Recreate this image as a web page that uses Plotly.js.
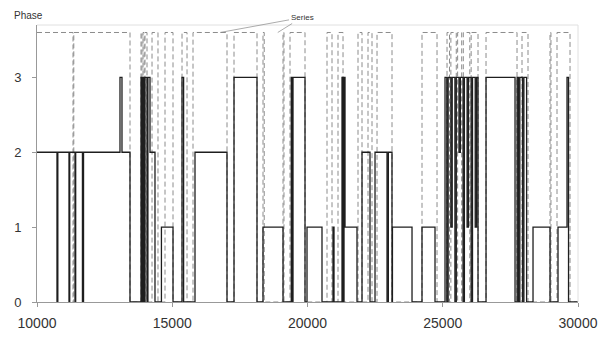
<!DOCTYPE html>
<html>
<head>
<meta charset="utf-8">
<script src="https://cdn.plot.ly/plotly-3.0.1.min.js"></script>
<style>html,body{margin:0;padding:0;background:#fff;}#chart{width:601px;height:343px;}</style>
</head>
<body>
<div id="chart"></div>
<script>
// Phase step series (time, phase)
var phaseTime = [10000,10739,10770,11183,11210,11405,11430,11680,11720,13068,13142,13438,
  13845,13880,13919,13960,13993,14067,14100,14178,14362,14600,15028,15361,15420,15841,
  17024,17283,18133,18355,19095,19400,19430,19464,19908,19982,20536,20943,20980,
  21276,21310,21350,21387,21830,22015,22311,22496,22940,22990,23124,23140,23864,
  24233,24714,25084,25150,25200,25300,25350,25450,25500,25600,25650,25750,25800,25900,
  25950,26050,26100,26200,26250,26304,26600,27672,27750,27800,27850,27950,28000,28100,
  28337,28966,29261,29594,29650,30000];
var phaseValue = [2,0,2,0,2,0,2,0,2,3,2,0,
  3,0,3,0,3,0,3,2,0,1,0,3,0,2,
  0,3,0,1,0,3,0,3,0,1,0,1,0,
  3,0,3,1,0,2,0,2,0,2,0,1,0,
  1,0,3,0,3,1,3,0,3,2,3,0,3,1,
  3,0,3,1,3,0,3,0,3,0,3,0,3,0,
  1,0,1,3,0,0];

// Dashed "Series" step (time, level)
var seriesTime = [10000,11331,11360,13438,13845,13880,13919,13960,13993,14067,14252,14473,
  14732,15028,15361,15546,15767,17024,17283,18133,18355,18400,19095,19130,19353,19908,
  20721,20906,21128,21313,21867,22015,22237,22385,22570,23124,24233,24788,
  25158,25250,25300,25500,25550,25700,25760,26000,26050,26304,26600,27746,27930,28152,
  28966,29000,29224,29705,30000];
var seriesValue = [3.6,0,3.6,0,3.6,0,3.6,0,3.6,0,3.6,0,
  3.6,0,3.6,0,3.6,0,3.6,0,3.6,0,3.6,0,3.6,0,
  3.6,0,3.6,0,3.6,0,3.6,0,3.6,0,3.6,0,
  3.6,0,3.6,0,3.6,0,3.6,0,3.6,0,3.6,0,3.6,0,
  3.6,0,3.6,0,0];

var xTicks = [10000,15000,20000,25000,30000];
var yTicks = [0,1,2,3];

var traces = [
  {x: seriesTime, y: seriesValue, type:'scatter', mode:'lines', line:{shape:'hv', color:'#8c8c8c', width:1, dash:'5px,3px'}, hoverinfo:'skip', name:'Series'},
  {x: phaseTime, y: phaseValue, type:'scatter', mode:'lines', line:{shape:'hv', color:'#1e1e1e', width:1.3}, hoverinfo:'skip', name:'Phase'}
];

var layout = {
  width:601, height:343,
  margin:{l:37, r:23, t:25, b:41},
  paper_bgcolor:'#fff', plot_bgcolor:'#fff',
  showlegend:false,
  font:{family:'Liberation Sans, Arial, sans-serif', size:11, color:'#333'},
  xaxis:{range:[10000,30000], tickvals:xTicks, ticktext:xTicks.map(String), showgrid:false, zeroline:false,
    showline:true, linecolor:'#999', linewidth:1, ticks:'outside', ticklen:4, tickcolor:'#999',
    ticklabelstandoff:4, tickfont:{size:14, color:'#333'}},
  yaxis:{range:[0,3.7], tickvals:yTicks, ticktext:yTicks.map(String), showgrid:false, zeroline:false,
    showline:true, linecolor:'#999', linewidth:1, ticks:'outside', ticklen:4, tickcolor:'#999',
    ticklabelstandoff:8, tickfont:{size:13, color:'#333'}},
  shapes:[
    {type:'line', xref:'paper', yref:'paper', x0:0, x1:1, y0:1, y1:1, line:{color:'#e0e0e0', width:1}},
    {type:'line', xref:'paper', yref:'paper', x0:1, x1:1, y0:0, y1:1, line:{color:'#e0e0e0', width:1}}
  ],
  annotations:[
    {xref:'paper', yref:'paper', x:-0.047, y:1.035, xanchor:'left', yanchor:'middle', text:'Phase', showarrow:false, font:{size:10, color:'#333'}},
    {x:16766, y:3.6, xref:'x', yref:'y', text:'Series', showarrow:true, arrowhead:0, arrowwidth:0.7, arrowcolor:'#888',
      ax:82, ay:-15, font:{size:8, color:'#333'}},
    {x:18900, y:3.6, xref:'x', yref:'y', text:'Series', showarrow:true, arrowhead:0, arrowwidth:0.7, arrowcolor:'#888',
      ax:24, ay:-15, font:{size:8, color:'rgba(0,0,0,0)'}}
  ]
};

Plotly.newPlot('chart', traces, layout, {displayModeBar:false, staticPlot:true});
</script>
</body>
</html>
